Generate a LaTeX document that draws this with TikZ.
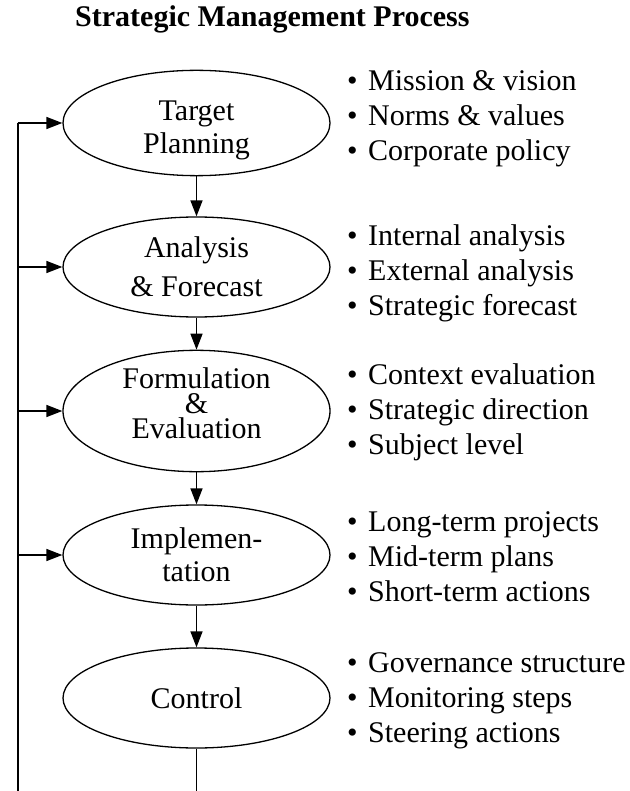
\documentclass[tikz,border=0pt]{standalone}
\usepackage{fontspec}
\setmainfont{Liberation Serif}
\usetikzlibrary{shapes.geometric,arrows.meta}
\tikzset{
  stage/.style={draw, line width=1.3pt, ellipse, minimum width=267pt, minimum height=100pt, inner sep=0pt, align=center, font=\fontsize{30}{33}\selectfont},
  items/.style={anchor=west, align=left, inner sep=0pt, font=\fontsize{30}{35}\selectfont},
  flow/.style={line width=1.5pt, -{Triangle[length=16pt,width=12pt]}},
  feedback/.style={line width=2pt},
}
\newcommand{\bul}{\makebox[21pt][l]{•}}
\begin{document}
\begin{tikzpicture}[x=1pt,y=-1pt]
\useasboundingbox (0,0) rectangle (629,791);
\node[anchor=base west, inner sep=0pt, font=\fontsize{30}{33}\selectfont\bfseries] (title) at (75,27) {Strategic Management Process};

\node[stage] (tp) at (196.5,123) {\rule{0pt}{35pt}Target\\Planning};
\node[stage, font=\fontsize{30}{39}\selectfont] (af) at (196.5,267) {Analysis\\\& Forecast};
\node[stage, font=\fontsize{30}{25}\selectfont] (fe) at (196.5,411) {Formulation\\\&\\Evaluation\rule[-15pt]{0pt}{0pt}};
\node[stage] (im) at (196.5,555) {Implemen-\\tation};
\node[stage] (co) at (196.5,698) {Control};

\node[items] (l1) at (347,119) {\bul Mission \& vision\\\bul Norms \& values\\\bul Corporate policy};
\node[items] (l2) at (347,273) {\bul Internal analysis\\\bul External analysis\\\bul Strategic forecast};
\node[items] (l3) at (347,412) {\bul Context evaluation\\\bul Strategic direction\\\bul Subject level};
\node[items] (l4) at (347,557) {\bul Long-term projects\\\bul Mid-term plans\\\bul Short-term actions};
\node[items] (l5) at (347,701) {\bul Governance structure\\\bul Monitoring steps\\\bul Steering actions};

\draw[flow] (tp) -- (af);
\draw[flow] (af) -- (fe);
\draw[flow] (fe) -- (im);
\draw[flow] (im) -- (co);

\coordinate (cb) at (196.5,791);
\coordinate (lb) at (17.5,791);
\draw[line width=1.5pt] (co) -- (cb);
\draw[feedback] (lb) -- (lb |- tp.west);
\draw[flow] (lb |- tp.west) -- (tp.west);
\draw[flow] (lb |- af.west) -- (af.west);
\draw[flow] (lb |- fe.west) -- (fe.west);
\draw[flow] (lb |- im.west) -- (im.west);
\end{tikzpicture}
\end{document}
